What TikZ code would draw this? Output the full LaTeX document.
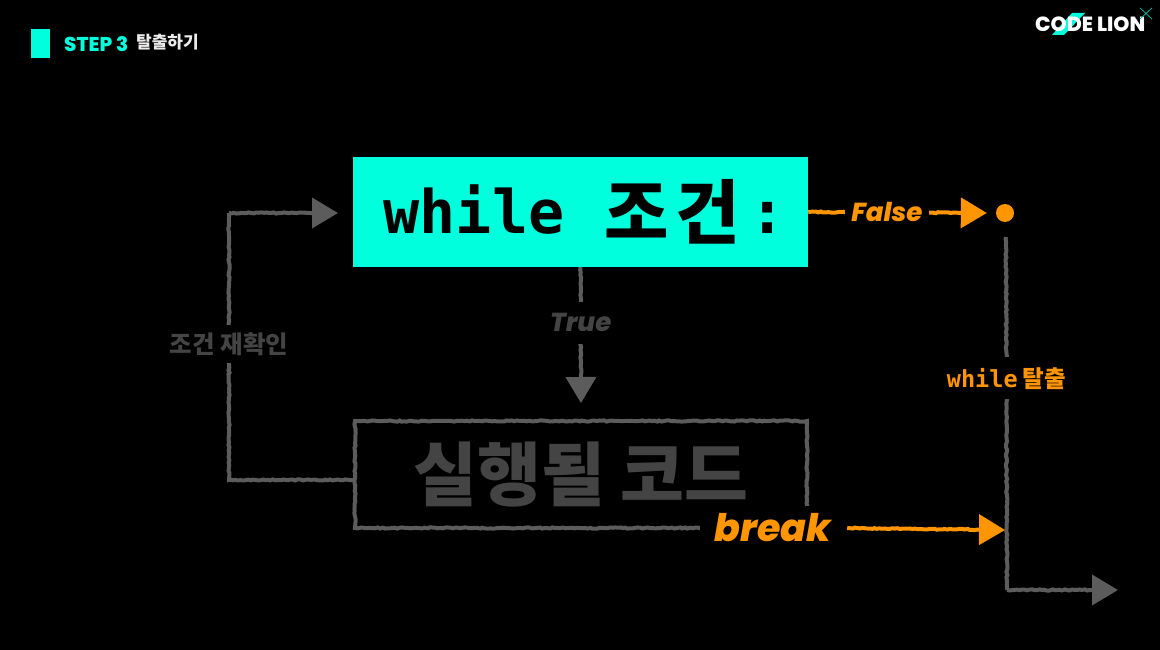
\documentclass[tikz,border=0pt]{standalone}
\usepackage{fontspec}
\usepackage{xcolor}
\usetikzlibrary{arrows.meta,decorations.pathmorphing}
\setmainfont{Noto Sans CJK KR}
\newfontfamily\popfont[BoldFont={Poppins ExtraBold},BoldItalicFont={Poppins ExtraBold Italic}]{Poppins}
\newfontfamily\codefont{DejaVu Sans Mono}
\definecolor{mint}{HTML}{00FFDC}
\definecolor{amber}{HTML}{FF9500}
\definecolor{chalk}{HTML}{5C5C5C}
\definecolor{dim}{HTML}{444444}
\begin{document}
\begin{tikzpicture}[x=1pt,y=-1pt]
        \tikzset{rough/.style={decorate,decoration={random steps,segment length=2.5pt,amplitude=.6pt,post length=4pt}},
            flow/.style={rough,decoration={post length=28pt},draw=chalk,line width=4pt,-{Triangle[length=26pt,width=30pt]}},
            plain/.style={rough,draw=chalk,line width=4pt},
            hot/.style={rough,decoration={post length=28pt},draw=amber,line width=4pt,-{Triangle[length=26pt,width=30pt]}},
            gap/.style={fill=black,inner sep=0pt,font=\bfseries}}
        \fill[black] (0,0) rectangle (1160,650);
        \useasboundingbox (0,0) rectangle (1160,650);
        \node[fill=mint,minimum width=18.5pt,minimum height=29pt,inner sep=0pt] (mark) at (40.5,43.5) {};
        \node[anchor=west,inner sep=0pt,text=mint,font=\popfont\bfseries\fontsize{20}{20}\selectfont] (step) at (64,44) {STEP 3};
        \node[anchor=west,inner sep=0pt,text=white!92!black,font=\bfseries\fontsize{17}{17}\selectfont] (title) at (136,42.5) {탈출하기};
        \fill[mint] (1052,35) -- (1072,13) -- (1085,13) -- (1064,35) -- cycle;
        \node[anchor=west,inner sep=0pt,text=white,font=\popfont\bfseries\fontsize{20.5}{20.5}\selectfont] (logo) at (1035,24.5) {CODE LION};
        \coordinate (xa) at (1140,8);
        \coordinate (xb) at (1152,19);
        \coordinate (xc) at (1152,8);
        \coordinate (xd) at (1140,19);
        \draw[mint!70!black,line width=.8pt] (xa) -- (xb) (xc) -- (xd);
        \node[fill=mint,minimum width=455pt,minimum height=110pt,inner sep=0pt,font=\bfseries] (cond) at (580.5,212) {\hspace{8pt}\raisebox{5pt}{\codefont\fontsize{60}{60}\selectfont while}\hspace{40pt}\normalfont\bfseries\fontsize{70}{70}\selectfont 조\hspace{7pt}건\hspace{9pt}\raisebox{5pt}{\codefont\bfseries\fontsize{60}{60}\selectfont :}};
        \node[draw=chalk,rough,line width=4pt,minimum width=452pt,minimum height=107pt,inner sep=0pt,text=dim,font=\bfseries\fontsize{69.5}{69.5}\selectfont] (code) at (581,474.5) {실행될 코드};
        \node[circle,fill=amber,minimum size=18pt,inner sep=0pt] (dot) at (1005,213) {};
        \coordinate (tip) at (581,403);
        \coordinate (below) at (1006,237);
        \coordinate (join) at (1005,530);
        \coordinate (turn) at (1007,590);
        \coordinate (out) at (1118,590);
        \coordinate (corner) at (229,480);
        \coordinate (back) at (229,213);
        \coordinate (top) at (338,213);
        \draw[flow] (cond.south) -- node[gap,text=dim,pos=.41,font=\popfont\bfseries\itshape\fontsize{26}{26}\selectfont,minimum height=42pt,minimum width=66pt] (tlabel) {True} (tip);
        \draw[plain] (corner -| code.west) -- (corner) -- node[gap,text=dim,pos=.51,font=\bfseries\fontsize{24.5}{24.5}\selectfont,minimum width=124pt,minimum height=38pt] (again) {조건 재확인} (back);
        \draw[flow] (back) -- (top);
        \draw[hot] (cond.east) -- node[gap,text=amber,pos=.44,font=\popfont\bfseries\itshape\fontsize{26}{26}\selectfont,minimum width=84pt,minimum height=36pt] (flabel) {False} ([xshift=-9pt]dot.west);
        \draw[plain] (below) -- node[gap,text=amber,pos=.40,minimum width=125pt,minimum height=42pt] (wlabel) {\codefont\fontsize{23.5}{23.5}\selectfont while\hspace{5pt}\normalfont\bfseries\fontsize{23.5}{23.5}\selectfont 탈출} (turn);
        \draw[flow] (turn) -- (out);
        \node[fill=black,inner sep=0pt,minimum width=146pt,minimum height=44pt,text=amber,font=\popfont\bfseries\itshape\fontsize{38}{38}\selectfont] (break) at (773,528) {break};
        \draw[hot] ([xshift=1pt]break.east) -- (join);
\end{tikzpicture}
\end{document}
